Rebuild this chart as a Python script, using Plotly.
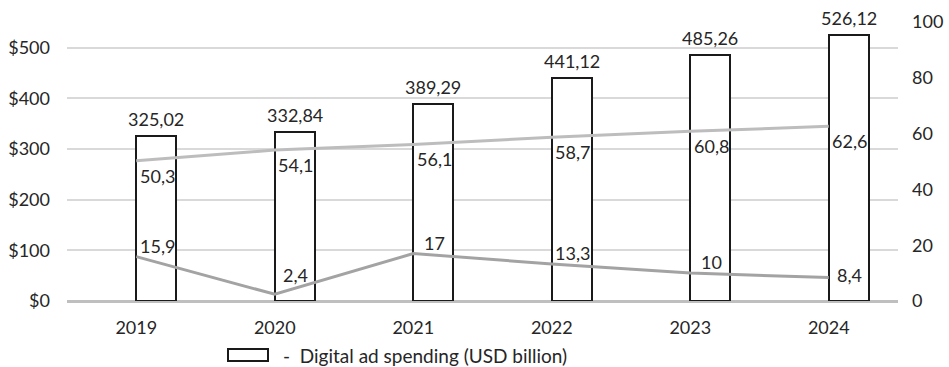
import plotly.graph_objects as go

years = ["2019", "2020", "2021", "2022", "2023", "2024"]
ad_spending = [325.02, 332.84, 389.29, 441.12, 485.26, 526.12]
upper_series = [50.3, 54.1, 56.1, 58.7, 60.8, 62.6]
lower_series = [15.9, 2.4, 17, 13.3, 10, 8.4]

lower_label_shift = [11, 19, 11, 11, 11, 3]

FONT = "Lato, 'Open Sans', sans-serif"
TXT = "#262626"
FS = 18


def fmt(v):
    s = f"{v:.2f}" if isinstance(v, float) and v > 100 else f"{v:g}"
    return s.replace(".", ",")


fig = go.Figure()
fig.add_trace(go.Bar(
    x=years, y=ad_spending, width=0.29, offset=0,
    marker=dict(color="white", line=dict(color="#1a1a1a", width=2)),
    showlegend=False, yaxis="y",
))
fig.add_trace(go.Scatter(
    x=years, y=upper_series, mode="lines", yaxis="y2",
    line=dict(color="#bdbdbd", width=3), showlegend=False,
))
fig.add_trace(go.Scatter(
    x=years, y=lower_series, mode="lines", yaxis="y2",
    line=dict(color="#a3a3a3", width=3), showlegend=False,
))

ann = []
for i, v in enumerate(ad_spending):
    ann.append(dict(x=i, y=v, xref="x", yref="y", text=fmt(v), showarrow=False,
                    xshift=20, yshift=4, yanchor="bottom",
                    font=dict(family=FONT, size=FS, color=TXT)))
for i, v in enumerate(upper_series):
    ann.append(dict(x=i, y=v, xref="x", yref="y2", text=fmt(v), showarrow=False,
                    xshift=21, yshift=-15, font=dict(family=FONT, size=FS, color=TXT)))
for i, (v, s) in enumerate(zip(lower_series, lower_label_shift)):
    ann.append(dict(x=i, y=v, xref="x", yref="y2", text=fmt(v), showarrow=False,
                    xshift=21, yshift=s, font=dict(family=FONT, size=FS, color=TXT)))

# legend
ann.append(dict(x=(281 - 67) / 831, y=-(355 - 301) / 279, xref="paper", yref="paper",
                text="-  Digital ad spending (USD billion)", showarrow=False,
                xanchor="left", yanchor="middle",
                font=dict(family=FONT, size=19, color=TXT)))

shapes = [dict(type="rect", xref="paper", yref="paper",
               x0=(228 - 67) / 831, x1=(268 - 67) / 831,
               y0=-(349 - 301) / 279, y1=-(361 - 301) / 279,
               line=dict(color="#1a1a1a", width=2), fillcolor="white")]

fig.update_layout(
    width=949, height=367,
    margin=dict(l=67, r=51, t=22, b=66, autoexpand=False),
    paper_bgcolor="white", plot_bgcolor="white",
    font=dict(family=FONT, size=FS, color=TXT),
    bargap=0,
    xaxis=dict(type="category", range=[-0.5, 5.5], showgrid=False, ticks="",
               showline=False, tickfont=dict(size=FS), zeroline=False,
               ticklabelstandoff=14, automargin=False),
    yaxis=dict(range=[0, 551], dtick=100, tickprefix="$", showgrid=True,
               gridcolor="#d9d9d9", gridwidth=1.5, zeroline=True,
               zerolinecolor="#bfbfbf", zerolinewidth=2.5, ticks="", ticklen=0,
               tickfont=dict(size=FS), ticklabelstandoff=16, automargin=False),
    yaxis2=dict(range=[0, 100], dtick=20, overlaying="y", side="right",
                showgrid=False, zeroline=False, tickfont=dict(size=FS),
                ticklabelstandoff=13, automargin=False),
    annotations=ann, shapes=shapes, showlegend=False,
)

fig.write_html("out.html")
